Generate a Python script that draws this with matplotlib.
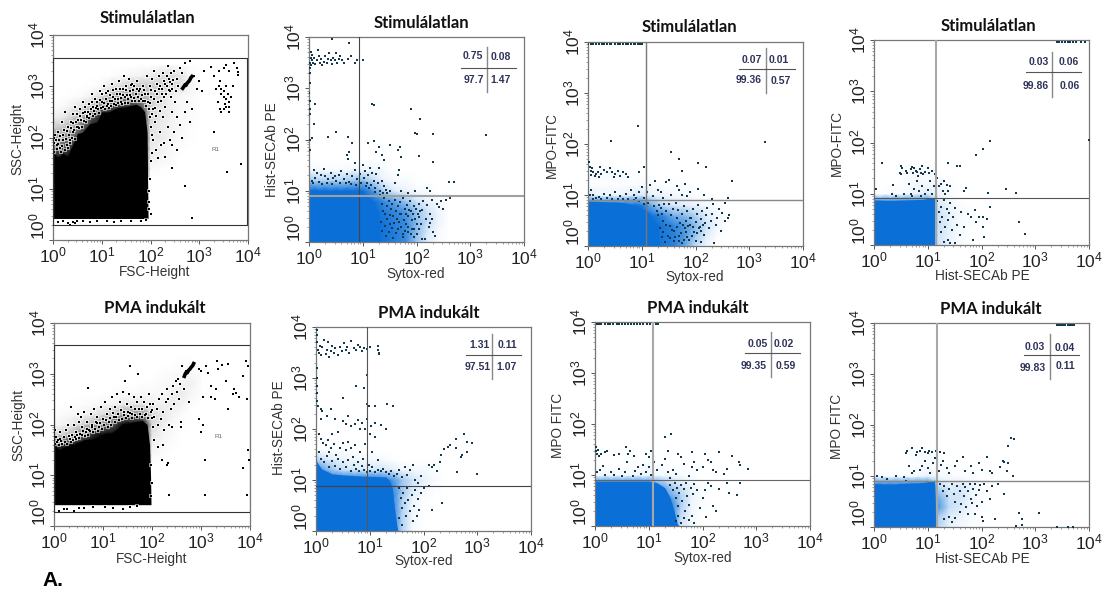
import numpy as np
import matplotlib
matplotlib.use('Agg')
import matplotlib.pyplot as plt
from matplotlib.colors import LinearSegmentedColormap
from matplotlib.lines import Line2D
from matplotlib.ticker import LogFormatterMathtext, LogLocator, NullFormatter

plt.rcParams['font.family'] = ['Liberation Sans', 'DejaVu Sans']
plt.rcParams['mathtext.default'] = 'regular'

W, H = 1105, 595

# all events are given in decades (log10 of the channel value)

# --- scatter panels: upper outline of the solid black population
fsc_top_x = [0, .1, .2, .3, .4, .5, .6, .75, .9, 1.0, 1.15, 1.3, 1.5, 1.7, 1.8, 1.88, 1.93, 1.95]
fsc_top_y = [1.7, 1.62, 1.7, 1.63, 1.85, 2.08, 2.1, 2.27, 2.3, 2.5, 2.5, 2.58, 2.6, 2.65, 2.6, 2.5, 2.1, .42]
fsc_low = .42
pma_top_x = [0, .1, .2, .4, .6, .8, 1.0, 1.2, 1.4, 1.6, 1.8, 1.9, 1.95, 1.97, 1.98]
pma_top_y = [1.6, 1.5, 1.55, 1.6, 1.7, 1.72, 1.8, 1.85, 2.0, 2.05, 2.08, 2.0, 1.6, 1.0, .42]
pma_low = .42

# coverage of the fuzzy edge of the population: rows are SSC decades, columns FSC decades
fuzz_x = [0, .2, .4, .6, .8, 1.0, 1.2, 1.4, 1.6, 1.8, 2.0, 2.2, 2.4, 2.6, 2.8, 3.0]
fuzz_y = [1.2, 1.4, 1.6, 1.8, 2.0, 2.2, 2.4, 2.6, 2.8, 3.0, 3.2, 3.4]
fsc_fuzz = np.array([
    [1, 1, 1, 1, 1, 1, 1, 1, 1, 1, 0, 0, 0, 0, 0, 0],
    [1, 1, 1, 1, 1, 1, 1, 1, 1, 1, .02, .01, 0, 0, 0, 0],
    [.9, .9, 1, 1, 1, 1, 1, 1, 1, 1, .06, .04, .02, 0, 0, 0],
    [.6, .65, .85, 1, 1, 1, 1, 1, 1, 1, .08, .06, .03, .01, 0, 0],
    [.4, .4, .6, .85, 1, 1, 1, 1, 1, 1, .1, .08, .05, .02, .01, 0],
    [.2, .22, .35, .6, .9, 1, 1, 1, 1, 1, .12, .08, .05, .03, .01, 0],
    [.06, .08, .18, .3, .65, .9, 1, 1, 1, 1, .15, .1, .06, .03, .02, 0],
    [.01, .02, .06, .12, .25, .55, .7, .8, .85, .7, .18, .1, .06, .03, .02, .01],
    [0, 0, .01, .02, .06, .15, .3, .4, .45, .35, .2, .15, .06, .03, .02, .01],
    [0, 0, 0, 0, .01, .03, .1, .15, .2, .22, .2, .2, .15, .12, .05, .01],
    [0, 0, 0, 0, 0, 0, .01, .02, .05, .05, .08, .12, .15, .12, .03, .01],
    [0, 0, 0, 0, 0, 0, 0, 0, 0, .01, .01, .02, .02, .02, .01, 0],
])
pma_fuzz = np.array([
    [1, 1, 1, 1, 1, 1, 1, 1, 1, 1, 0, 0, 0, 0, 0, 0],
    [1, 1, 1, 1, 1, 1, 1, 1, 1, 1, .03, .01, 0, 0, 0, 0],
    [.8, .85, 1, 1, 1, 1, 1, 1, 1, 1, .06, .03, .01, 0, 0, 0],
    [.15, .2, .3, .6, .85, 1, 1, 1, 1, 1, .1, .04, .02, 0, 0, 0],
    [.03, .05, .1, .18, .3, .45, .65, 1, 1, 1, .15, .08, .03, .01, 0, 0],
    [.01, .02, .03, .05, .08, .14, .22, .35, .45, .45, .15, .1, .05, .02, 0, 0],
    [0, 0, .01, .01, .02, .03, .05, .08, .1, .1, .06, .06, .08, .05, .01, 0],
    [0, 0, 0, 0, 0, 0, .01, .02, .02, .03, .03, .03, .06, .08, .03, .01],
    [0, 0, 0, 0, 0, 0, 0, 0, 0, .01, .01, .02, .03, .05, .06, .01],
    [0, 0, 0, 0, 0, 0, 0, 0, 0, 0, 0, .01, .02, .03, .03, .02],
    [0, 0, 0, 0, 0, 0, 0, 0, 0, 0, 0, 0, 0, .01, .01, 0],
    [0, 0, 0, 0, 0, 0, 0, 0, 0, 0, 0, 0, 0, 0, 0, 0],
])

fsc_dots = np.array([
    (.01, 2.4), (.01, 2.2), (.02, 2.0), (.03, 1.9), (.05, 2.05), (.08, 1.85), (.1, 2.1), (.12, 1.95), (.15, 1.8), (.18, 2.3),
    (.2, 1.95), (.22, 2.15), (.25, 2.5), (.28, 1.85), (.3, 2.2), (.33, 2.05), (.35, 1.9), (.37, 2.3), (.4, 2.45), (.42, 2.1),
    (.45, 2.6), (.48, 2.3), (.5, 2.45), (.52, 2.2), (.55, 2.55), (.58, 2.35), (.62, 2.7), (.65, 2.5), (.68, 2.3), (.7, 2.4),
    (.73, 2.65), (.76, 2.45), (.8, 2.85), (.83, 2.6), (.87, 2.45), (.9, 2.7), (.93, 2.55), (.97, 2.9), (1.0, 2.7), (1.03, 2.6),
    (1.05, 3.0), (1.08, 2.75), (1.1, 2.62), (1.13, 2.9), (1.16, 2.72), (1.2, 3.05), (1.23, 2.8), (1.26, 2.65), (1.3, 2.95), (1.33, 2.75),
    (1.35, 3.1), (1.38, 2.85), (1.4, 2.7), (1.43, 2.95), (1.46, 3.2), (1.48, 2.8), (1.5, 3.0), (1.53, 2.75), (1.55, 3.15), (1.58, 2.9),
    (1.6, 2.8), (1.63, 3.05), (1.66, 3.0), (1.7, 2.85), (1.73, 3.1), (1.76, 2.9), (1.8, 2.75), (1.85, 3.0), (1.88, 2.85), (1.92, 3.2),
    (1.95, 2.7), (1.98, 3.0), (2.0, 2.8), (2.03, 3.15), (2.05, 2.55), (2.08, 3.3), (2.1, 2.9), (2.13, 3.05), (2.15, 2.7), (2.18, 3.2),
    (2.2, 3.0), (2.23, 2.85), (2.25, 3.25), (2.28, 3.1), (2.3, 2.6), (2.33, 3.0), (2.35, 3.4), (2.38, 3.15), (2.4, 2.9), (2.43, 3.25),
    (2.45, 3.05), (2.48, 3.3), (2.5, 2.7), (2.55, 3.15), (2.6, 3.35), (2.65, 3.25), (2.7, 3.45), (2.75, 2.7), (2.82, 3.5), (2.9, 3.2),
    (2.95, 2.95), (3.0, 3.1), (3.05, 2.9), (3.1, 3.3),
    (1.98, 2.4), (2.0, 2.2), (2.03, 2.05), (2.05, 1.95), (2.1, 2.3), (2.12, 1.75), (2.15, 1.6), (2.2, 2.1), (2.22, 1.85), (2.25, 2.4),
    (2.28, 1.9), (2.3, 1.62), (2.35, 2.2), (2.4, 1.95), (2.45, 2.5), (2.48, 2.1), (2.55, 2.4), (2.6, 2.25), (2.65, 2.0), (2.7, 2.5),
    (2.8, 2.3), (2.85, 2.55), (2.55, 1.75), (2.45, 1.85), (2.03, 1.7), (2.0, 1.55),
    (3.25, 3.38), (3.4, 3.3), (3.5, 3.35), (3.55, 3.42), (3.6, 3.3), (3.72, 3.45), (3.78, 3.35), (3.8, 3.28), (3.79, 3.22), (3.3, 3.2),
    (3.42, 3.1), (3.35, 2.95), (3.4, 3.0), (3.45, 2.95), (3.5, 2.9), (3.55, 3.0), (3.45, 2.85), (3.5, 2.8), (3.55, 2.75), (3.6, 2.7),
    (3.62, 2.6), (3.55, 2.6), (3.5, 2.55), (3.45, 2.5), (3.6, 2.5), (3.65, 2.8), (3.7, 3.0), (3.38, 2.7), (3.58, 2.85), (3.52, 2.65),
    (3.3, 2.1), (3.43, 2.55), (3.85, 1.48), (3.57, 1.33), (2.45, 1.4), (2.7, 1.05), (2.85, .42), (2.0, .5), (1.97, .75), (1.96, .95),
    (1.98, 1.2), (1.97, .6), (.1, .35), (.2, .38), (.3, .33), (.35, .3), (.4, .36), (.45, .34), (.5, .38), (.62, .37),
    (.75, .36), (.9, .37), (1.1, .38), (1.25, .36), (1.4, .38), (1.6, .37), (1.8, .38), (1.9, .39),
    # denser fringe above the population
    (.03, 1.72), (.06, 1.95), (.09, 1.78), (.11, 1.88), (.14, 2.02), (.16, 1.72), (.19, 1.84), (.21, 2.05), (.24, 1.76), (.26, 1.98),
    (.29, 2.12), (.31, 1.8), (.34, 1.96), (.36, 2.18), (.39, 2.0), (.41, 2.28), (.44, 2.15), (.46, 1.98), (.49, 2.2), (.51, 2.35),
    (.54, 2.18), (.56, 2.42), (.59, 2.2), (.61, 2.48), (.64, 2.32), (.66, 2.6), (.69, 2.42), (.71, 2.5), (.74, 2.38), (.77, 2.55),
    (.79, 2.7), (.82, 2.42), (.84, 2.52), (.86, 2.75), (.89, 2.58), (.91, 2.62), (.94, 2.48), (.96, 2.74), (.99, 2.58), (1.01, 2.85),
    (1.04, 2.68), (1.07, 2.56), (1.09, 2.86), (1.12, 2.66), (1.14, 2.58), (1.17, 2.82), (1.19, 2.62), (1.22, 2.72), (1.24, 2.92), (1.27, 2.75),
    (1.29, 2.64), (1.32, 2.85), (1.34, 2.68), (1.37, 2.95), (1.39, 2.78), (1.42, 2.66), (1.44, 2.82), (1.47, 2.68), (1.49, 2.92), (1.52, 2.82),
    (1.54, 2.68), (1.57, 2.82), (1.59, 3.02), (1.62, 2.72), (1.64, 2.92), (1.67, 2.78), (1.69, 2.72), (1.72, 2.95), (1.74, 2.8), (1.77, 2.72),
    (1.79, 2.95), (1.82, 2.82), (1.84, 2.72), (1.87, 2.92), (1.89, 2.72), (1.91, 2.62), (1.94, 2.85), (1.96, 2.55), (1.99, 2.68), (2.02, 2.92),
    (2.04, 2.45), (2.07, 2.75), (2.09, 2.58), (2.12, 2.42), (2.14, 2.85), (2.17, 2.95), (2.19, 2.52), (2.22, 2.72), (2.24, 2.95), (2.27, 2.8),
    (2.29, 3.05), (2.32, 2.85), (2.34, 3.2), (2.37, 2.92), (2.39, 3.08), (2.42, 2.8), (2.44, 2.95), (2.47, 3.12), (2.52, 2.9), (2.57, 3.0),
])
fsc_cluster = np.array([(2.66, 2.96), (2.69, 3.0), (2.71, 3.03), (2.73, 3.02), (2.75, 3.06), (2.77, 3.08), (2.79, 3.1), (2.81, 3.13), (2.83, 3.17), (2.85, 3.19)])

pma_dots = np.array([
    (.0, 2.2), (.01, 2.05), (.02, 1.9), (.04, 1.75), (.08, 1.7), (.12, 1.85), (.15, 1.68), (.2, 1.75), (.25, 1.9), (.28, 2.0),
    (.32, 1.72), (.35, 2.35), (.37, 1.8), (.4, 2.0), (.42, 1.75), (.45, 1.85), (.48, 2.2), (.5, 2.05), (.53, 1.82), (.55, 2.15),
    (.58, 1.95), (.62, 2.25), (.65, 1.85), (.68, 2.05), (.7, 2.72), (.72, 1.9), (.75, 2.2), (.78, 2.0), (.82, 2.3), (.85, 2.05),
    (.88, 2.15), (.92, 1.95), (.95, 2.35), (1.0, 2.1), (1.05, 2.45), (1.08, 2.2), (1.12, 2.05), (1.15, 2.3), (1.18, 2.55), (1.22, 2.15),
    (1.25, 2.35), (1.28, 2.6), (1.3, 2.2), (1.35, 2.45), (1.4, 2.65), (1.43, 2.25), (1.45, 2.85), (1.48, 2.4), (1.5, 2.25), (1.53, 2.6),
    (1.55, 3.15), (1.58, 2.35), (1.6, 2.2), (1.63, 2.55), (1.66, 2.3), (1.7, 2.45), (1.72, 3.0), (1.75, 2.2), (1.78, 2.55), (1.8, 2.3),
    (1.83, 2.45), (1.87, 2.2), (1.9, 2.35), (1.93, 2.6), (1.97, 2.25), (2.0, 2.12), (2.03, 2.4), (2.05, 2.15), (2.1, 2.3), (2.12, 2.0),
    (2.15, 2.5), (2.18, 2.1), (2.2, 2.6), (2.23, 2.25), (2.25, 1.9), (2.28, 2.45), (2.3, 2.7), (2.33, 2.5), (2.35, 2.0), (2.38, 2.3),
    (2.4, 2.6), (2.43, 2.75), (2.45, 2.4), (2.48, 2.85), (2.5, 2.65), (2.53, 2.9), (2.55, 2.5), (2.58, 2.8), (2.62, 3.15), (2.65, 2.7),
    (2.7, 3.05), (2.75, 2.45), (2.02, 1.95), (2.05, 1.7), (2.12, 1.55), (2.2, 1.3), (2.22, 1.6), (2.3, 1.2), (2.33, 1.25), (2.4, 1.95),
    (2.6, 1.95), (2.95, 3.1), (3.0, 3.05), (3.1, 3.15), (3.15, 3.02), (3.2, 2.75), (3.2, 2.55), (3.28, 2.5), (3.3, 2.7), (3.33, 3.25),
    (3.35, 3.1), (3.42, 3.18), (3.5, 2.85), (3.55, 3.2), (3.55, 2.3), (3.65, 2.6), (3.68, 2.7), (3.72, 2.62), (3.78, 2.55), (3.85, 2.95),
    (3.92, 3.25), (3.93, 2.5), (3.95, 3.15), (3.05, 2.55), (3.05, 2.0), (2.95, 2.1), (2.6, 2.05), (3.0, 1.85), (3.08, 1.3), (3.85, 1.15),
    (3.95, 1.5), (3.97, 1.3), (2.35, .62), (3.08, .62), (3.93, .62), (1.98, .6), (1.99, .85), (1.97, 1.2), (.1, .3), (.2, .34),
    (.27, .33), (.4, .3), (.5, .36), (.62, .35), (.8, .37), (1.05, .38), (1.2, .36), (1.4, .34), (1.55, .37), (1.7, .39),
    # denser fringe above the population
    (.03, 1.62), (.06, 1.66), (.1, 1.6), (.13, 1.72), (.17, 1.62), (.22, 1.66), (.27, 1.62), (.3, 1.78), (.34, 1.66), (.38, 1.7),
    (.44, 1.72), (.47, 1.8), (.52, 1.74), (.57, 1.8), (.6, 1.88), (.64, 1.78), (.67, 1.92), (.7, 1.8), (.74, 1.88), (.77, 1.95),
    (.8, 1.85), (.84, 1.92), (.87, 2.02), (.9, 1.88), (.94, 2.02), (.97, 1.92), (1.02, 2.0), (1.06, 2.08), (1.1, 1.95), (1.14, 2.12),
    (1.17, 2.0), (1.2, 2.22), (1.24, 2.05), (1.27, 2.15), (1.32, 2.08), (1.36, 2.28), (1.38, 2.1), (1.42, 2.18), (1.46, 2.12), (1.52, 2.16),
    (1.56, 2.22), (1.6, 2.12), (1.65, 2.18), (1.7, 2.14), (1.74, 2.3), (1.79, 2.14), (1.85, 2.18), (1.92, 2.12), (1.96, 2.4), (2.01, 2.28),
])
pma_cluster = np.array([(2.66, 2.95), (2.68, 3.0), (2.7, 3.03), (2.72, 3.02), (2.74, 3.06), (2.76, 3.08), (2.78, 3.1), (2.8, 3.13), (2.83, 3.16), (2.85, 3.2)])

# --- blue panels: solid core outline
p2_top_x = [0, .3, .6, .9, 1.0, 1.1, 1.2, 1.3, 1.33]
p2_top_y = [1.02, 1.0, 1.0, 1.0, .95, .88, .75, .6, .02]
p3_top_x = [0, .3, .6, .8, 1.0, 1.1, 1.2, 1.3, 1.33]
p3_top_y = [.88, .87, .86, .82, .74, .68, .55, .42, .02]
p4_top_x = [0, .3, .6, .9, 1.05, 1.13, 1.15]
p4_top_y = [.88, .87, .88, .89, .92, .92, .02]
p6_top_x = [0, .1, .3, .5, .8, 1.0, 1.3, 1.37, 1.42, 1.45, 1.5, 1.52]
p6_top_y = [1.38, 1.22, 1.12, 1.1, 1.08, 1.07, 1.06, .98, .84, .54, .14, .02]
p7_top_x = [0, .5, 1.0, 1.15, 1.3, 1.4, 1.47, 1.53, 1.55]
p7_top_y = [.88, .88, .88, .85, .75, .55, .3, .05, .02]
p8_top_x = [0, .3, .6, .9, 1.05, 1.13, 1.15]
p8_top_y = [.85, .84, .86, .87, .9, .92, .02]

# coverage of the speckled edge in the blue panels: rows are y decades, columns x decades
blue_x = [0, .2, .4, .6, .8, 1.0, 1.2, 1.4, 1.6, 1.8, 2.0, 2.2, 2.4, 2.6]
blue_y = [0, .2, .4, .6, .8, 1.0, 1.2, 1.4, 1.6]
p2_fuzz = np.array([
    [1, 1, 1, 1, 1, 1, 1, .9, .75, .55, .25, .08, .02, 0],
    [1, 1, 1, 1, 1, 1, 1, .9, .75, .55, .3, .1, .03, 0],
    [1, 1, 1, 1, 1, 1, 1, .9, .7, .55, .3, .15, .05, 0],
    [1, 1, 1, 1, 1, 1, 1, .8, .6, .45, .25, .12, .04, 0],
    [1, 1, 1, 1, 1, 1, 1, .5, .4, .25, .12, .06, .02, 0],
    [1, 1, 1, 1, 1, 1, .45, .18, .08, .05, .02, .02, 0, 0],
    [.25, .2, .2, .2, .25, .3, .15, .05, .02, .02, 0, 0, 0, 0],
    [.03, .02, .02, .02, .03, .04, .04, .02, 0, 0, 0, 0, 0, 0],
    [0, 0, 0, 0, 0, 0, 0, 0, 0, 0, 0, 0, 0, 0],
])
p3_fuzz = np.array([
    [1, 1, 1, 1, 1, 1, 1, .85, .7, .4, .15, .04, 0, 0],
    [1, 1, 1, 1, 1, 1, 1, .85, .7, .45, .25, .08, .01, 0],
    [1, 1, 1, 1, 1, 1, 1, .85, .65, .45, .3, .12, .04, 0],
    [1, 1, 1, 1, 1, 1, .9, .6, .35, .3, .2, .08, .03, 0],
    [1, 1, 1, 1, 1, .85, .35, .15, .1, .08, .05, .03, .01, 0],
    [.1, .05, .05, .05, .08, .1, .06, .04, .03, .02, .01, 0, 0, 0],
    [.01, .01, .01, .01, .01, .02, .01, .01, .01, 0, 0, 0, 0, 0],
    [.02, .02, .02, .02, .01, .01, 0, 0, 0, 0, 0, 0, 0, 0],
    [0, 0, 0, 0, 0, 0, 0, 0, 0, 0, 0, 0, 0, 0],
])
p4_fuzz = np.array([
    [1, 1, 1, 1, 1, 1, .12, .05, .02, 0, 0, 0, 0, 0],
    [1, 1, 1, 1, 1, 1, .12, .06, .02, 0, 0, 0, 0, 0],
    [1, 1, 1, 1, 1, 1, .14, .06, .02, .01, 0, 0, 0, 0],
    [1, 1, 1, 1, 1, 1, .12, .06, .02, .01, 0, 0, 0, 0],
    [1, 1, 1, 1, 1, 1, .1, .04, .01, 0, 0, 0, 0, 0],
    [0, .01, .02, .02, .05, .08, .04, .02, 0, 0, 0, 0, 0, 0],
    [0, 0, 0, .01, .03, .02, .03, .01, 0, 0, 0, 0, 0, 0],
    [0, 0, 0, .01, .03, .02, 0, 0, 0, 0, 0, 0, 0, 0],
    [0, 0, 0, 0, 0, 0, 0, 0, 0, 0, 0, 0, 0, 0],
])
p6_fuzz = np.array([
    [1, 1, 1, 1, 1, 1, 1, .85, .2, .02, 0, 0, 0, 0],
    [1, 1, 1, 1, 1, 1, 1, .85, .2, .03, 0, 0, 0, 0],
    [1, 1, 1, 1, 1, 1, 1, .85, .2, .03, .01, 0, 0, 0],
    [1, 1, 1, 1, 1, 1, 1, .85, .2, .04, .01, 0, 0, 0],
    [1, 1, 1, 1, 1, 1, 1, .75, .25, .08, .03, .01, 0, 0],
    [1, 1, 1, 1, 1, 1, .9, .5, .25, .12, .06, .02, 0, 0],
    [.6, .35, .18, .12, .1, .1, .12, .08, .04, .03, .03, .01, 0, 0],
    [.2, .1, .06, .04, .03, .03, .02, .01, 0, 0, 0, 0, 0, 0],
    [0, 0, 0, 0, 0, 0, 0, 0, 0, 0, 0, 0, 0, 0],
])
p7_fuzz = np.array([
    [1, 1, 1, 1, 1, 1, 1, .85, .12, .02, 0, 0, 0, 0],
    [1, 1, 1, 1, 1, 1, 1, .85, .15, .03, 0, 0, 0, 0],
    [1, 1, 1, 1, 1, 1, 1, .8, .2, .04, .01, 0, 0, 0],
    [1, 1, 1, 1, 1, 1, .9, .4, .2, .05, .01, 0, 0, 0],
    [1, 1, 1, 1, 1, .9, .4, .2, .1, .04, .01, 0, 0, 0],
    [.02, .03, .02, .02, .04, .04, .03, .03, .02, .01, 0, 0, 0, 0],
    [0, 0, 0, 0, .01, .02, .01, 0, 0, 0, 0, 0, 0, 0],
    [.01, 0, 0, 0, 0, 0, 0, 0, 0, 0, 0, 0, 0, 0],
    [0, 0, 0, 0, 0, 0, 0, 0, 0, 0, 0, 0, 0, 0],
])
p8_fuzz = np.array([
    [1, 1, 1, 1, 1, 1, .18, .06, .03, .01, 0, 0, 0, 0],
    [1, 1, 1, 1, 1, 1, .22, .08, .05, .02, 0, 0, 0, 0],
    [1, 1, 1, 1, 1, 1, .45, .15, .1, .03, .01, 0, 0, 0],
    [1, 1, 1, 1, 1, 1, .35, .12, .12, .05, .01, 0, 0, 0],
    [1, 1, 1, 1, 1, 1, .15, .08, .1, .05, .01, 0, 0, 0],
    [.01, .01, .01, .01, .03, .06, .03, .02, .01, .01, 0, 0, 0, 0],
    [0, 0, 0, 0, .01, .01, .01, 0, 0, 0, 0, 0, 0, 0],
    [0, 0, 0, 0, .02, .02, 0, 0, 0, 0, 0, 0, 0, 0],
    [0, 0, 0, 0, 0, 0, 0, 0, 0, 0, 0, 0, 0, 0],
])

# --- blue panels: single events
p2_dots = np.array([
    (.02, 3.4), (.02, 3.5), (.03, 3.6), (.03, 3.7), (.04, 3.45), (.05, 3.55), (.06, 3.65), (.08, 3.5), (.1, 3.6), (.12, 3.48),
    (.14, 3.55), (.16, 3.75), (.18, 3.62), (.2, 3.5), (.22, 3.58), (.24, 3.45), (.27, 3.52), (.3, 3.62), (.33, 3.5), (.36, 3.58),
    (.38, 3.68), (.4, 3.55), (.42, 3.47), (.45, 3.6), (.48, 3.55), (.5, 3.68), (.52, 3.5), (.55, 3.58), (.58, 3.62), (.62, 3.56),
    (.66, 3.5), (.72, 3.58), (.78, 3.62), (.85, 3.5), (.9, 3.56), (1.0, 3.55), (.42, 3.97), (.74, 3.88), (.01, 3.3), (.01, 3.1),
    (0, 2.9), (.01, 2.75), (.02, 2.6), (.01, 2.5), (.12, 2.7), (1.18, 2.7), (1.2, 2.68), (1.9, 2.6), (2.06, 2.4), (2.0, 2.1),
    (1.98, 2.12), (2.3, 2.1), (3.3, 2.08), (.35, 2.05), (.5, 2.15), (.73, 2.05), (.05, 2.02), (.1, 2.3), (.02, 2.0), (.02, 1.8),
    (.8, 1.93), (1.1, 1.93), (1.2, 1.98), (1.3, 1.85), (1.25, 1.75), (1.35, 1.7), (1.4, 1.6), (1.5, 1.9), (1.65, 1.8), (1.7, 1.85),
    (1.72, 1.65), (2.05, 1.68), (2.3, 1.56), (.7, 1.7), (.74, 1.75), (.85, 1.55), (.72, 1.62), (.1, 1.4), (.15, 1.35), (.22, 1.3),
    (.28, 1.42), (.3, 1.28), (.35, 1.22), (.4, 1.35), (.45, 1.25), (.5, 1.2), (.55, 1.3), (.6, 1.38), (.65, 1.22), (.7, 1.32),
    (.75, 1.18), (.8, 1.28), (.85, 1.4), (.9, 1.22), (.95, 1.33), (1.0, 1.5), (1.02, 1.25), (1.05, 1.38), (1.08, 1.15), (1.1, 1.3),
    (1.13, 1.45), (1.15, 1.12), (1.18, 1.35), (1.2, 1.2), (1.23, 1.05), (1.25, 1.32), (1.28, 1.15), (1.3, 1.45), (1.33, 1.0), (1.36, 1.2),
    (1.4, 1.1), (1.45, .95), (1.5, 1.0), (1.55, .9), (1.6, 1.15), (1.65, 1.3), (1.68, 1.4), (1.72, 1.0), (1.85, .95), (1.98, 1.0),
    (2.2, 1.05), (2.25, 1.0), (2.6, 1.17), (2.7, 1.17), (2.63, .85), (2.5, .65),
    (1.35, .75), (1.4, .85), (1.42, .55), (1.45, .7), (1.48, .8), (1.5, .35), (1.52, .65), (1.55, .75), (1.57, .5), (1.6, .82),
    (1.62, .6), (1.65, .7), (1.68, .4), (1.7, .78), (1.72, .55), (1.75, .85), (1.78, .65), (1.8, .35), (1.82, .72), (1.85, .5),
    (1.87, .8), (1.9, .6), (1.92, .25), (1.95, .7), (1.97, .45), (2.0, .15), (2.02, .55), (2.05, .75), (2.08, .35), (2.1, .62),
    (2.12, .8), (2.15, .05), (2.18, .45), (2.2, .72), (2.23, .3), (2.25, .55), (2.28, .82), (2.3, .2), (2.35, .12), (2.38, .75),
    (2.42, .68), (2.45, .8), (2.55, .82), (1.75, .1), (1.85, .2), (1.95, .1), (2.1, .05), (2.05, .25), (2.28, .45), (2.25, .38),
    # denser edge
    (1.34, .4), (1.36, .22), (1.38, .6), (1.41, .32), (1.43, .12), (1.46, .45), (1.49, .2), (1.51, .52), (1.54, .28), (1.56, .08),
    (1.58, .38), (1.61, .18), (1.63, .45), (1.66, .25), (1.69, .55), (1.71, .3), (1.74, .15), (1.76, .42), (1.79, .22), (1.81, .55),
    (1.84, .3), (1.86, .62), (1.89, .15), (1.91, .42), (1.94, .55), (1.96, .25), (1.99, .65), (2.01, .35), (2.04, .48), (2.07, .6),
    (.05, 1.2), (.08, 1.15), (.12, 1.25), (.18, 1.18), (.24, 1.14), (.33, 1.16), (.42, 1.14), (.48, 1.28), (.58, 1.15), (.68, 1.15),
    (.78, 1.14), (.88, 1.12), (.97, 1.15), (1.06, 1.1), (1.12, 1.05), (1.22, .98), (1.27, .9), (1.32, .92), (1.38, .95), (1.43, 1.02),
])
p3_dots = np.array([
    (.02, 1.65), (.03, 1.55), (.05, 1.48), (.06, 1.4), (.08, 1.52), (.1, 1.45), (.13, 1.38), (.15, 1.42), (.18, 1.46), (.2, 1.36),
    (.22, 1.55), (.25, 1.42), (.3, 1.5), (.35, 1.45), (.4, 1.52), (.45, 1.46), (.48, 1.35), (.5, 1.42), (.55, 1.48), (.6, 1.38),
    (.65, 1.45), (.7, 1.42), (.75, 1.35), (.95, 1.45), (1.05, 1.55), (.93, 2.35), (.42, 2.05), (3.3, 2.03), (1.55, 1.85), (1.7, 1.7),
    (1.75, 1.48), (2.05, 1.62), (2.2, 1.55), (.03, 1.0), (.05, 1.1), (.1, 1.0), (.2, .97), (.3, 1.02), (.4, 1.0), (.5, 1.05),
    (.6, .98), (.7, 1.02), (.8, 1.1), (.85, 1.0), (.9, .95), (.95, 1.05), (1.0, 1.15), (1.05, .95), (1.1, 1.05), (1.15, 1.2),
    (1.2, .98), (1.25, 1.28), (1.3, 1.1), (1.35, 1.05), (1.4, .95), (1.45, 1.25), (1.5, 1.3), (1.55, 1.0), (1.65, 1.18), (1.7, 1.1),
    (1.75, 1.0), (1.8, 1.22), (1.85, .98), (1.9, 1.05), (2.05, 1.12), (2.15, 1.0), (2.3, .92), (2.6, .95), (2.67, 1.28), (2.6, .55),
    (2.62, .6), (2.55, .5),
    (1.3, .6), (1.35, .75), (1.4, .5), (1.45, .68), (1.5, .82), (1.52, .4), (1.55, .6), (1.58, .72), (1.6, .3), (1.63, .85),
    (1.65, .55), (1.68, .7), (1.7, .2), (1.72, .45), (1.75, .62), (1.78, .78), (1.8, .35), (1.82, .5), (1.85, .68), (1.88, .12),
    (1.9, .42), (1.92, .55), (1.95, .72), (1.98, .28), (2.0, .48), (2.02, .62), (2.05, .8), (2.08, .38), (2.1, .52), (2.12, .68),
    (2.15, .22), (2.18, .45), (2.2, .6), (2.22, .75), (2.25, .35), (2.28, .5), (2.3, .62), (2.33, .82), (2.35, .05), (2.38, .42),
    (2.4, .55), (2.43, .72), (2.47, .3), (2.5, .65), (2.55, .85), (1.6, .1), (1.75, .05), (1.85, .18), (2.0, .1), (2.1, .08),
    # denser edge
    (1.34, .35), (1.37, .18), (1.4, .28), (1.43, .08), (1.46, .42), (1.48, .2), (1.53, .15), (1.56, .32), (1.62, .18), (1.66, .38),
    (1.69, .1), (1.73, .25), (1.76, .42), (1.79, .12), (1.83, .28), (1.86, .4), (1.89, .55), (1.93, .2), (1.96, .38), (2.03, .25),
    (2.06, .35), (2.11, .3), (2.14, .42), (.1, .93), (.15, .95), (.25, .93), (.35, .94), (.45, .93), (.55, .92), (.65, .93),
    (.75, .92), (.85, .9), (.95, .88), (1.05, .82), (1.12, .85), (1.22, .78), (1.28, .68), (1.33, .8), (1.38, .62), (1.42, .82),
])
p3_line = np.array([(x, 3.97) for x in [.0, .05, .1, .14, .2, .26, .3, .35, .4, .43, .5, .55, .6, .65, .7, .75, .8, .85, .88, .93, .97, 1.0]])
p4_dots = np.array([
    (.15, 1.6), (.5, 1.55), (.52, 1.5), (.48, 1.4), (.5, 1.38), (.6, 1.45), (.62, 1.4), (.68, 1.48), (.7, 1.52), (.72, 1.4),
    (.75, 1.5), (.78, 1.45), (.8, 1.42), (.82, 1.35), (.85, 1.48), (.87, 1.4), (.9, 1.55), (.92, 1.38), (.95, 1.42), (1.0, 1.5),
    (1.03, 1.4), (1.08, 1.45), (1.13, 1.38), (1.15, 1.48), (1.15, 2.3), (1.37, 1.6), (1.55, 1.55), (1.6, 1.55), (1.9, 1.75), (2.02, 1.88),
    (2.15, 2.03), (4.0, 2.05), (.03, 1.1), (.35, 1.18), (.33, 1.0), (.4, .95), (.55, 1.0), (.65, 1.2), (.68, 1.0), (.7, .95),
    (.75, 1.1), (.8, 1.25), (.83, 1.05), (.88, .95), (.9, 1.15), (.95, 1.0), (1.0, 1.08), (1.05, 1.25), (1.08, 1.0), (1.12, 1.15),
    (1.18, 1.3), (1.2, 1.15), (1.25, 1.2), (1.28, 1.05), (1.3, 1.25), (1.32, 1.0), (1.35, 1.18), (1.38, 1.05), (1.42, 1.15), (1.68, 1.05),
    (1.72, 1.12), (2.12, 1.02), (2.45, 1.1), (2.65, 1.02), (2.15, .75),
    (1.18, .85), (1.2, .65), (1.22, .45), (1.24, .75), (1.25, .25), (1.27, .55), (1.3, .88), (1.32, .35), (1.35, .7), (1.37, .1),
    (1.38, .48), (1.4, .62), (1.42, .82), (1.45, .3), (1.47, .55), (1.5, .72), (1.55, .4), (1.6, .2), (1.62, .65), (1.68, .35),
    (1.75, .6), (1.8, .55), (1.85, .1), (1.88, .68), (1.9, .45), (1.95, .55), (2.02, .35), (2.03, .55), (2.05, .15), (2.1, .5),
    (2.7, .45), (2.8, .22), (1.3, .05), (1.42, .03), (1.5, .03),
])
p4_line = np.array([(x, 3.96) for x in [3.4, 3.45, 3.5, 3.55, 3.6, 3.65, 3.7, 3.75, 3.85, 3.92]])
p6_dots = np.array([
    (.01, 3.95), (.02, 3.85), (.02, 3.7), (.03, 3.55), (.05, 3.5), (.08, 3.62), (.1, 3.45), (.12, 3.6), (.15, 3.75), (.18, 3.48),
    (.2, 3.55), (.22, 3.7), (.25, 3.42), (.28, 3.52), (.3, 3.62), (.33, 3.5), (.36, 3.58), (.4, 3.45), (.44, 3.6), (.48, 3.52),
    (.52, 3.68), (.55, 3.55), (.58, 3.6), (.62, 3.5), (.66, 3.72), (.7, 3.58), (.74, 3.55), (.78, 3.65), (.82, 3.6), (.86, 3.52),
    (.9, 3.58), (.95, 3.56), (1.0, 3.6), (1.15, 3.55), (1.16, 3.62), (1.17, 3.5), (1.18, 3.48), (.01, 3.2), (.02, 3.0), (.01, 2.85),
    (.02, 2.7), (.01, 2.55), (.03, 2.45), (.1, 2.4), (.5, 2.6), (.75, 2.85), (.9, 2.8), (.94, 3.05), (.95, 2.5), (.98, 2.45),
    (1.1, 2.45), (1.32, 2.5), (1.43, 2.45), (.1, 2.2), (.12, 2.35), (.2, 2.25), (.28, 2.4), (.35, 2.2), (.5, 2.15), (.55, 2.1),
    (.6, 2.25), (.65, 2.05), (.72, 2.1), (.78, 2.18), (.82, 2.0), (.86, 2.12), (.92, 2.0), (.95, 2.2), (1.02, 2.05), (1.1, 2.12),
    (1.2, 2.08), (1.3, 2.0), (.05, 1.9), (.1, 1.8), (.13, 1.72), (.18, 1.68), (.22, 1.78), (.25, 1.55), (.28, 1.62), (.3, 1.9),
    (.33, 1.7), (.37, 1.5), (.4, 1.95), (.45, 1.62), (.5, 1.72), (.55, 1.58), (.6, 1.75), (.65, 1.62), (.68, 1.45), (.72, 1.68),
    (.78, 1.35), (.82, 1.55), (.88, 1.42), (.92, 1.7), (.98, 1.3), (1.05, 1.55), (1.1, 1.85), (1.0, 1.9), (1.15, 1.4), (.05, 1.55),
    (.1, 1.42), (.15, 1.35), (.2, 1.48), (.25, 1.25), (.3, 1.38), (.35, 1.28), (.4, 1.42), (.45, 1.22), (.5, 1.35), (.55, 1.25),
    (.6, 1.4), (.65, 1.18), (.7, 1.3), (.75, 1.22), (.8, 1.18), (.85, 1.28), (.9, 1.2), (.95, 1.15), (1.0, 1.18), (1.05, 1.25),
    (1.1, 1.15), (1.15, 1.2), (1.2, 1.18), (1.25, 1.22), (1.3, 1.15), (1.35, 1.12), (1.4, 1.18), (1.45, 1.08), (1.5, 1.12), (1.55, 1.2),
    (1.6, 1.05), (1.65, 1.25), (1.7, 1.1), (1.75, 1.2), (1.8, 1.3), (1.85, 1.0), (1.9, .95), (1.95, 1.08), (2.1, .88), (2.1, 1.3),
    (2.15, 1.25), (2.2, 1.3), (2.25, 1.18), (2.3, 1.35), (2.32, 1.5), (2.38, 1.6), (2.45, 1.65), (2.5, 1.68), (2.6, 1.62), (2.62, 1.15),
    (2.7, 1.45), (2.75, 1.9), (2.8, 1.55), (2.6, 1.8), (2.72, 1.5), (2.9, 1.72), (2.8, 1.75), (3.0, 1.12), (2.35, .55), (2.15, .42),
    (1.92, .42), (1.55, .85), (1.58, .65), (1.6, .45), (1.62, .75), (1.65, .55), (1.68, .3), (1.7, .85), (1.72, .6), (1.75, .4),
    (1.78, .7), (1.8, .2), (1.82, .5), (1.85, .8), (1.88, .3), (1.9, .62), (1.95, .75), (2.0, .85), (1.55, .25), (1.6, .12),
])
p7_dots = np.array([
    (.01, 1.55), (.02, 1.48), (.03, 1.42), (.05, 1.5), (.08, 1.38), (.12, 1.42), (.18, 1.45), (.22, 1.48), (.35, 1.4), (.45, 1.42),
    (.58, 1.55), (.62, 1.42), (.65, 1.48), (.72, 1.38), (.95, 1.42), (1.05, 1.48), (1.0, 1.35), (1.1, 1.25), (1.3, 1.75), (1.42, 1.8),
    (1.35, 1.48), (1.55, 1.42), (1.6, 1.35), (1.8, 1.45), (2.05, 1.42), (2.1, 1.3), (2.15, 1.25), (2.3, 1.45), (2.55, 1.38), (2.68, 1.25),
    (2.7, 1.2), (2.85, 1.12), (.03, 1.05), (.1, 1.1), (.15, 1.18), (.18, 1.0), (.3, 1.05), (.35, 1.0), (.45, 1.12), (.5, .98),
    (.55, 1.05), (.6, 1.25), (.7, .98), (.75, 1.08), (.8, 1.15), (.85, 1.02), (.9, 1.2), (.95, 1.05), (1.0, 1.15), (1.05, 1.0),
    (1.1, 1.25), (1.15, 1.1), (1.25, 1.2), (1.3, 1.32), (1.35, 1.05), (1.4, .95), (1.45, 1.1), (1.5, 1.02), (1.65, 1.22), (1.75, .98),
    (1.8, 1.15), (1.85, 1.25), (1.9, 1.1), (2.0, 1.15), (2.2, 1.1), (2.25, 1.05), (2.4, 1.02), (2.45, 1.12),
    (1.4, .8), (1.45, .7), (1.48, .85), (1.5, .55), (1.53, .75), (1.55, .4), (1.57, .65), (1.6, .8), (1.62, .5), (1.65, .72),
    (1.67, .3), (1.7, .85), (1.72, .58), (1.75, .42), (1.78, .75), (1.8, .2), (1.82, .62), (1.85, .82), (1.9, .7), (1.95, .35),
    (2.0, .55), (2.05, .7), (2.1, .85), (2.15, .78), (2.2, .4), (2.25, .3), (2.3, .72), (2.45, .85), (2.5, .65), (2.65, .6),
    (2.7, .85), (1.5, .1), (1.55, .2), (1.6, .05), (1.65, .15), (1.75, .12), (2.07, .18), (1.85, .05),
])
p7_line = np.array([(x, 3.96) for x in [.03, .07, .12, .18, .24, .28, .34, .4, .45, .5, .56, .62, .67, .72, .78, .84, .9, .96, 1.02, 1.08, 1.13, 1.17]])
p8_dots = np.array([
    (.62, 1.5), (.6, 1.45), (.7, 1.55), (.78, 1.42), (.8, 1.48), (.85, 1.5), (.9, 1.55), (.95, 1.48), (1.0, 1.45), (1.03, 1.5),
    (1.08, 1.48), (1.15, 1.5), (1.22, 1.48), (1.3, 1.45), (.65, 1.2), (.7, 1.05), (.75, 1.1), (.85, 1.12), (.9, 1.2), (.95, 1.3),
    (1.0, 1.15), (1.05, 1.05), (1.1, 1.25), (1.13, 1.35), (1.2, 1.1), (1.25, 1.22), (1.28, 1.3), (1.35, 1.15), (1.4, 1.05), (1.5, 1.2),
    (1.55, 1.3), (1.65, 1.38), (1.7, 1.1), (1.8, 1.2), (1.85, 1.05), (1.95, 1.25), (2.0, 1.12), (2.1, 1.38), (2.15, 1.1), (2.2, 1.05),
    (2.35, 1.18), (2.4, 1.3), (2.42, 1.28), (2.48, 1.1), (2.5, 1.58), (2.5, 1.25), (2.58, 1.0), (2.55, 1.75), (2.6, 1.72), (.05, 1.0),
    (.15, .98), (.25, .95), (.4, 1.0), (.55, .98), (.6, .9), (1.22, .85), (1.28, .7), (1.3, .8), (1.35, .6), (1.4, .75),
    (1.45, .85), (1.48, .65), (1.5, .5), (1.55, .8), (1.6, .7), (1.62, .45), (1.65, .85), (1.68, .6), (1.7, .78), (1.72, .4),
    (1.75, .7), (1.78, .85), (1.8, .55), (1.82, .48), (1.85, .75), (1.88, .85), (1.9, .62), (1.92, .42), (1.95, .72), (1.98, .82),
    (2.0, .5), (2.05, .85), (2.1, .7), (2.15, .55), (2.2, .8), (2.3, .85), (2.42, .65), (2.7, .28), (3.07, .27), (2.75, .15),
    (2.0, .2), (2.03, .12), (1.88, .25), (2.25, .15), (1.4, .2), (1.45, .1), (1.5, .18), (1.6, .3), (1.75, .25), (1.3, .15),
    (2.65, .02), (2.75, .03), (3.4, .0), (3.6, .0), (3.7, .0),
])
p8_line = np.array([(x, 3.96) for x in [3.4, 3.44, 3.48, 3.52, 3.56, 3.6, 3.64, 3.68, 3.72]])

titles = ['Stimulálatlan'] * 4 + ['PMA indukált'] * 4
xlabels = ['FSC-Height', 'Sytox-red', 'Sytox-red', 'Hist-SECAb PE'] * 2
ylabels = ['SSC-Height', 'Hist-SECAb PE', 'MPO-FITC', 'MPO-FITC',
           'SSC-Height', 'Hist-SECAb PE', 'MPO FITC', 'MPO FITC']
quad_values = {1: ['0.75', '0.08', '97.7', '1.47'], 2: ['0.07', '0.01', '99.36', '0.57'],
               3: ['0.03', '0.06', '99.86', '0.06'], 5: ['1.31', '0.11', '97.51', '1.07'],
               6: ['0.05', '0.02', '99.35', '0.59'], 7: ['0.03', '0.04', '99.83', '0.11']}

# layout in pixels of the picture: left, right, top, bottom of each plot
boxes = [(53, 248, 35, 240), (309, 524, 37, 242), (588, 803, 42, 246), (874, 1089, 40, 245),
         (54, 250, 323, 526), (316, 531, 327, 531), (595, 810, 322, 526), (874, 1089, 323, 527)]
title_pos = [(147, 18), (421, 23), (689, 27), (988, 26), (155, 308), (429, 313), (698, 308), (991, 309)]
xlabel_pos = [(155, 272), (416, 274), (695, 277), (982, 276), (152, 559), (424, 561), (703, 558), (982, 559)]
ylabel_pos = [(17, 139), (272, 150), (552, 145), (837, 143), (18, 425), (279, 428), (558, 425), (837, 426)]
gates = {0: (.286, 3.56, 3.98), 4: (.27, 3.57, 3.99)}
# quadrant gates: x, y, colour and width of the vertical and the horizontal line
quads = {1: (.93, .89, '#444444', .8, '#a0a0a0', 1.5), 2: (1.07, .91, '#777777', 1.0, '#888888', 1.0),
         3: (1.16, .91, '#a8a8a8', 1.5, '#555555', .8), 5: (.94, .89, '#555555', .8, '#444444', .8),
         6: (1.07, .91, '#a8a8a8', 1.5, '#666666', .8), 7: (1.17, .905, '#a8a8a8', 1.5, '#888888', 1.0)}
# small cross: centre x, top, bottom of vertical, left, right, y of horizontal
cross = {1: (487, 47, 92, 461, 516, 68), 2: (766, 48, 93, 739, 795, 69), 3: (1052, 52, 97, 1026, 1081, 72),
         5: (492, 334, 379, 466, 521, 355), 6: (771, 332, 377, 745, 800, 353), 7: (1050, 334, 379, 1024, 1079, 355)}
quad_text = {1: [(473, 56), (501, 57), (474, 80), (501, 80)], 2: [(752, 60), (779, 60), (749, 80), (781, 81)],
             3: [(1039, 62), (1069, 62), (1036, 86), (1070, 86)], 5: [(480, 345), (507, 345), (478, 367), (507, 367)],
             6: [(758, 344), (784, 344), (754, 366), (786, 366)], 7: [(1035, 347), (1065, 348), (1033, 368), (1065, 366)]}
r1_pos = {0: (3.33, 1.76), 4: (3.35, 1.77)}

blue_sets = {1: (p2_top_x, p2_top_y, p2_fuzz, p2_dots, None), 2: (p3_top_x, p3_top_y, p3_fuzz, p3_dots, p3_line),
             3: (p4_top_x, p4_top_y, p4_fuzz, p4_dots, p4_line), 5: (p6_top_x, p6_top_y, p6_fuzz, p6_dots, None),
             6: (p7_top_x, p7_top_y, p7_fuzz, p7_dots, p7_line), 7: (p8_top_x, p8_top_y, p8_fuzz, p8_dots, p8_line)}
black_sets = {0: (fsc_top_x, fsc_top_y, fsc_low, fsc_fuzz, fsc_dots, fsc_cluster),
              4: (pma_top_x, pma_top_y, pma_low, pma_fuzz, pma_dots, pma_cluster)}


def fx(px):
    return px / W


def fy(py):
    return 1 - py / H


def dec(a):
    return 10 ** np.asarray(a, dtype=float)


BLUE = '#0b6fd8'
DOT = '#123a4c'
blue_map = LinearSegmentedColormap.from_list('blue_edge', ['white', '#3d8ee0', BLUE])
black_map = LinearSegmentedColormap.from_list('black_edge', ['white', 'black'])

fig = plt.figure(figsize=(W / 100, H / 100), dpi=100, facecolor='white')

for i, (l, r, t, b) in enumerate(boxes):
    ax = fig.add_axes([fx(l), fy(b), (r - l) / W, (b - t) / H])
    ax.set_xscale('log')
    ax.set_yscale('log')

    if i in black_sets:
        tx, ty, low, fuzz, dots, clus = black_sets[i]
        ax.pcolormesh(dec(fuzz_x), dec(fuzz_y), fuzz, cmap=black_map, vmin=0, vmax=1, shading='gouraud', zorder=1)
        ax.fill_between(dec(tx), dec(low), dec(ty), color='black', lw=0, zorder=2)
        ax.scatter(dec(dots[:, 0]), dec(dots[:, 1]), s=5, marker='s', c='white', lw=0, zorder=2.4, alpha=.55)
        ax.scatter(dec(dots[:, 0]), dec(dots[:, 1]), s=1.1, marker='s', c='black', lw=0, zorder=3)
        ax.plot(dec(clus[:, 0]), dec(clus[:, 1]), color='black', lw=2.6, zorder=3)
        lowy, topy, rightx = gates[i]
        ax.plot(dec([0.01, rightx, rightx, 0.01, 0.01]), dec([lowy, lowy, topy, topy, lowy]), color='#333333', lw=.8, zorder=4)
        ax.text(dec(r1_pos[i][0]), dec(r1_pos[i][1]), 'R1', fontsize=4.5, color='#666666', ha='center', va='center')
    else:
        tx, ty, fuzz, dots, top_line = blue_sets[i]
        ax.pcolormesh(dec(blue_x), dec(blue_y), fuzz, cmap=blue_map, vmin=0, vmax=1, shading='gouraud', zorder=1)
        ax.fill_between(dec(tx), 1, dec(ty), color=BLUE, lw=0, zorder=2)
        # pale rim round every event, as in the cytometer's export
        ax.scatter(dec(dots[:, 0]), dec(dots[:, 1]), s=4, marker='s', c='#d5e9f2', lw=0, zorder=2.5)
        ax.scatter(dec(dots[:, 0]), dec(dots[:, 1]), s=1.4, marker='s', c=DOT, lw=0, zorder=3)
        if top_line is not None:
            ax.scatter(dec(top_line[:, 0]), dec(top_line[:, 1]), s=3, marker='s', c=DOT, lw=0, zorder=3)
        qx, qy, vc, vw, hc, hw = quads[i]
        ax.axvline(dec(qx), color=vc, lw=vw, zorder=4)
        ax.axhline(dec(qy), color=hc, lw=hw, zorder=4)

    ax.set_xlim(1, 1e4)
    ax.set_ylim(1, 1e4)
    for s in ax.spines.values():
        s.set_color('#777777')
        s.set_linewidth(.9)
    for axis in (ax.xaxis, ax.yaxis):
        axis.set_major_locator(LogLocator(base=10, numticks=6))
        axis.set_minor_locator(LogLocator(base=10, subs=np.arange(2, 10) * .1, numticks=6))
        axis.set_major_formatter(LogFormatterMathtext())
        axis.set_minor_formatter(NullFormatter())
    ax.set_xticks([1, 10, 100, 1000, 10000])
    ax.set_yticks([1, 10, 100, 1000, 10000])
    ax.set_xlim(1, 1e4)
    ax.set_ylim(1, 1e4)
    ax.tick_params(which='major', length=3, width=.7, color='#555555', labelsize=12.5, labelcolor='#222222')
    ax.tick_params(axis='x', which='major', pad=1)
    ax.tick_params(axis='y', which='major', pad=1)
    ax.tick_params(which='minor', length=1.5, width=.5, color='#777777')
    for k, lab in enumerate(ax.get_yticklabels()):
        lab.set_rotation(90)
        lab.set_va('bottom' if k == 0 else 'center')

    fig.text(fx(title_pos[i][0]), fy(title_pos[i][1]), titles[i], family=['Lato', 'DejaVu Sans'], weight='bold',
             fontsize=12, color='#111111', ha='center', va='center')
    fig.text(fx(xlabel_pos[i][0]), fy(xlabel_pos[i][1]), xlabels[i], fontsize=9.8, color='#333333', ha='center', va='center')
    fig.text(fx(ylabel_pos[i][0]), fy(ylabel_pos[i][1]), ylabels[i], fontsize=9.8, color='#333333', ha='center', va='center', rotation=90)

    if i in quad_values:
        cx, vt, vb, hl, hr, hy = cross[i]
        fig.add_artist(Line2D([fx(cx), fx(cx)], [fy(vt), fy(vb)], color='#888888', lw=1))
        fig.add_artist(Line2D([fx(hl), fx(hr)], [fy(hy), fy(hy)], color='#555555', lw=.8))
        for val, (px, py) in zip(quad_values[i], quad_text[i]):
            fig.text(fx(px), fy(py), val, family=['Liberation Sans Narrow', 'Liberation Sans'], fontsize=7.5,
                     weight='bold', color='#2e3358', ha='center', va='center')

fig.text(fx(53), fy(580), 'A.', fontsize=15, weight='bold', color='black', ha='center', va='center')

fig.savefig('out.png', dpi=100)
